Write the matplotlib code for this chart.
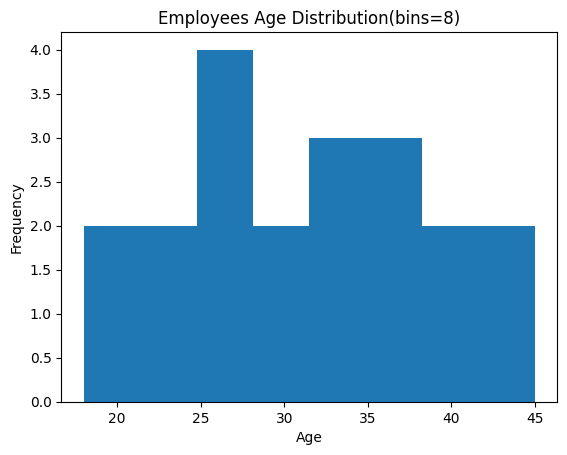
import matplotlib
matplotlib.use('Agg')
import matplotlib.pyplot as plt

# employee ages (read back from bin counts: 2,2,4,2,3,3,2,2)
ages = [18, 20, 22, 24, 25, 26, 27, 28, 29, 30,
        32, 33, 34, 35, 36, 38, 39, 41, 43, 45]
n_bins = 8

fig = plt.figure(figsize=(6.4, 4.8), dpi=100)
plt.hist(ages, bins=n_bins)
plt.title(f"Employees Age Distribution(bins={n_bins})")
plt.xlabel("Age")
plt.ylabel("Frequency")
plt.savefig("out.png", bbox_inches='tight')
plt.close(fig)
